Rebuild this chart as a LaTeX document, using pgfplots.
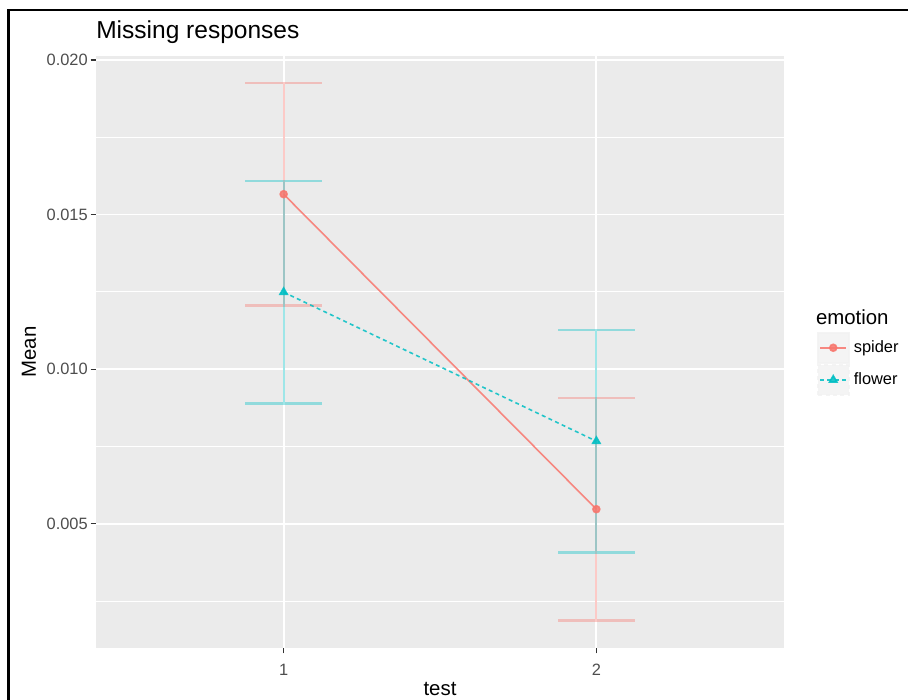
\documentclass[border=0pt]{standalone}
\usepackage{pgfplots}
\pgfplotsset{compat=1.18}
\usepackage{fontspec}
\setmainfont{Liberation Sans}
\definecolor{spider}{HTML}{F8766D}
\definecolor{flower}{HTML}{00BFC4}
\definecolor{panel}{HTML}{EBEBEB}
\definecolor{keybg}{HTML}{F2F2F2}
\definecolor{tickc}{HTML}{4D4D4D}
\definecolor{tickm}{HTML}{333333}
\begin{document}
\begin{tikzpicture}
\useasboundingbox (0,0) rectangle (681pt,-525pt);
\draw[line width=2.1pt] (6.5pt,-530pt) -- (6.5pt,-7.5pt) -- (690pt,-7.5pt);
\begin{axis}[
  at={(72pt,-42pt)}, anchor=north west,
  width=516pt, height=444pt, scale only axis,
  xmin=0.4, xmax=2.6, ymin=0.00098, ymax=0.02013,
  xtick={1,2}, ytick={0.005,0.010,0.015,0.020},
  minor ytick={0.0025,0.0075,0.0125,0.0175},
  grid=both,
  major grid style={white, line width=1.3pt},
  minor grid style={white, line width=0.65pt},
  axis background/.style={fill=panel},
  axis line style={draw=none},
  tick pos=left, tick align=outside,
  major tick length=4pt, minor tick length=0pt,
  tick style={tickm, line width=0.8pt},
  scaled y ticks=false,
  unbounded coords=jump,
  /pgf/number format/assume math mode=true,
  y tick label style={/pgf/number format/fixed, /pgf/number format/fixed zerofill, /pgf/number format/precision=3},
  tick label style={font=\fontsize{12.3}{14}\selectfont, text=tickc, inner sep=0pt},
  yticklabel style={anchor=east, xshift=-2pt},
  xticklabel style={anchor=base, yshift=-16.5pt},
  xlabel={test},
  xlabel style={at={(axis description cs:0.5,0)}, anchor=base, yshift=-35.25pt, inner sep=0pt, font=\fontsize{15.3}{18}\selectfont},
  ylabel={Mean},
  ylabel style={at={(axis description cs:-0.0974,0.5)}, anchor=center, inner sep=0pt, font=\fontsize{15.3}{18}\selectfont},
  legend style={at={(axis description cs:1.0475,0.5343)}, anchor=north west, draw=none, fill=none, inner sep=0pt, row sep=0.4pt, column sep=3.2pt, font=\fontsize{12.3}{14}\selectfont, nodes={inner sep=0pt}},
  legend cell align=left,
  legend image code/.code={
    \fill[keybg] (0pt,-11.25pt) rectangle (23.25pt,11.25pt);
    \draw[mark repeat=2,mark phase=2,#1] plot coordinates {(1.7pt,0pt) (11.625pt,0pt) (21.55pt,0pt)};
  },
]
% error bars (mean +/- 0.0036): whisker and caps
\addplot[spider, opacity=0.38, line width=1.7pt, mark=none, forget plot] coordinates {
  (1,0.01206) (1,0.01926) (nan,nan)
  (0.878,0.01926) (1.122,0.01926) (nan,nan)
  (0.878,0.01206) (1.122,0.01206) (nan,nan)
  (2,0.00187) (2,0.00907) (nan,nan)
  (1.878,0.00907) (2.122,0.00907) (nan,nan)
  (1.878,0.00187) (2.122,0.00187)
};
\addplot[flower, opacity=0.38, line width=1.7pt, mark=none, forget plot] coordinates {
  (1,0.00889) (1,0.01609) (nan,nan)
  (0.878,0.01609) (1.122,0.01609) (nan,nan)
  (0.878,0.00889) (1.122,0.00889) (nan,nan)
  (2,0.00407) (2,0.01127) (nan,nan)
  (1.878,0.01127) (2.122,0.01127) (nan,nan)
  (1.878,0.00407) (2.122,0.00407)
};
% means
\addplot[spider, line width=1.2pt, opacity=0.85, mark=*, mark size=2.6pt, mark options={solid}]
  table[x=x, y=y] {
x y
1 0.01566
2 0.00547
};
\addlegendentry{spider}
\addplot[flower, line width=1.2pt, opacity=0.85, dash pattern=on 3pt off 2.5pt, mark=triangle*, mark size=3.2pt, mark options={solid}]
  table[x=x, y=y] {
x y
1 0.01249
2 0.00767
};
\addlegendentry{flower}
\end{axis}
\node[anchor=base west, inner sep=0pt, font=\fontsize{18.4}{22}\selectfont] at (72pt,-28.7pt) {Missing responses};
\node[anchor=base west, inner sep=0pt, font=\fontsize{15.3}{18}\selectfont] at (611.8pt,-243pt) {emotion};
\end{tikzpicture}
\end{document}
